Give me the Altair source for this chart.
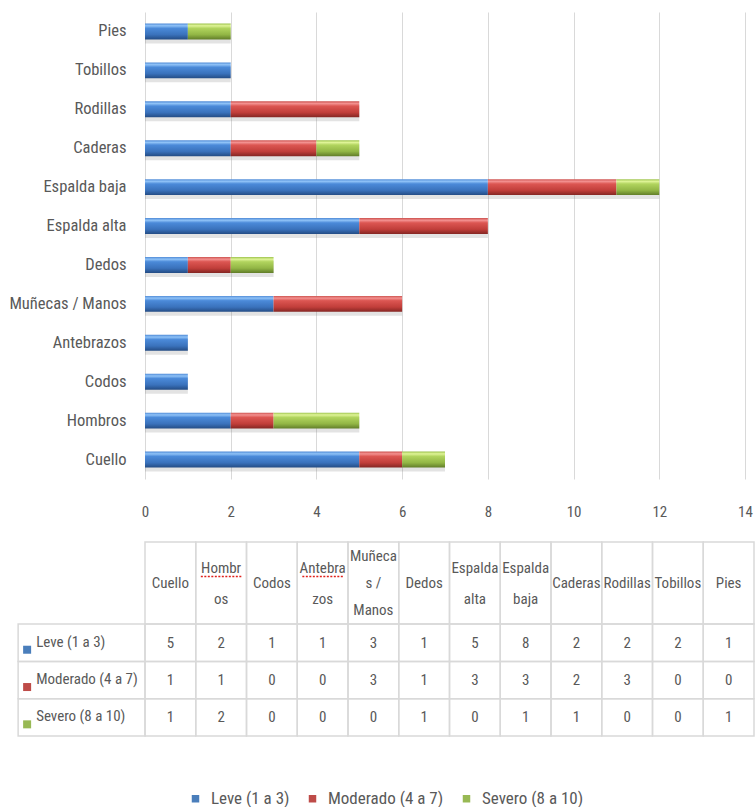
import altair as alt
import pandas as pd

FONT = "Roboto Condensed, Noto Sans Condensed, Arial Narrow, Roboto, sans-serif"
TXT = "#595959"
GRID = "#d9d9d9"

categories = ["Cuello", "Hombros", "Codos", "Antebrazos ", "Muñecas / Manos", "Dedos",
              "Espalda alta", "Espalda baja", "Caderas", "Rodillas", "Tobillos", "Pies"]
header_labels = ["Cuello", "Hombr\nos", "Codos", "Antebra\nzos", "Muñeca\ns /\nManos", "Dedos",
                 "Espalda\nalta", "Espalda\nbaja", "Caderas", "Rodillas", "Tobillos", "Pies"]
spell_flagged = ["Hombros", "Antebrazos "]
series = ["Leve (1 a 3)", "Moderado (4 a 7)", "Severo (8 a 10)"]
leve = [5, 2, 1, 1, 3, 1, 5, 8, 2, 2, 2, 1]
moderado = [1, 1, 0, 0, 3, 1, 3, 3, 2, 3, 0, 0]
severo = [1, 2, 0, 0, 0, 1, 0, 1, 1, 0, 0, 1]
x_ticks = [0, 2, 4, 6, 8, 10, 12, 14]
solid_colors = ["#4a7ebb", "#be4b48", "#98b954"]

def grad(stops):
    return alt.Gradient(gradient="linear", x1=0, x2=0, y1=0, y2=1,
                        stops=[alt.GradientStop(color=c, offset=o) for o, c in stops])

gradients = [
    grad([(0, "#4f8ad6"), (0.14, "#8fc2f7"), (0.3, "#4b8ad9"), (0.7, "#3a72bc"), (1, "#244c84")]),
    grad([(0, "#cc514e"), (0.14, "#f39190"), (0.3, "#dc5652"), (0.7, "#c13e3a"), (1, "#842623")]),
    grad([(0, "#9cc24c"), (0.14, "#dff497"), (0.3, "#b1d45e"), (0.7, "#92b645"), (1, "#617d29")]),
]

values_by_series = [leve, moderado, severo]
rows = []
for i, c in enumerate(categories):
    for k, s in enumerate(series):
        rows.append({"cat": c, "serie": s, "order": k, "value": values_by_series[k][i],
                     "col": i, "row": k})
df = pd.DataFrame(rows)

# ---------------- bar chart ----------------
base = alt.Chart(df).transform_stack(
    stack="value", groupby=["cat"], sort=[alt.SortField("order", order="ascending")],
    as_=["x0", "x1"]
).transform_filter("datum.value > 0")

y_enc = alt.Y("cat:N", sort=list(reversed(categories)),
              scale=alt.Scale(paddingInner=0.59, paddingOuter=0.295),
              axis=alt.Axis(title=None, ticks=False, domain=False, labelFontSize=16.5,
                            labelColor=TXT, labelFont=FONT, labelPadding=19))
x_enc = alt.X("x0:Q", scale=alt.Scale(domain=[0, 14], nice=False, zero=True),
              axis=alt.Axis(values=x_ticks, title=None, grid=True, gridColor=GRID,
                            gridWidth=1, ticks=False, domain=False, labelFontSize=15,
                            labelColor=TXT, labelFont=FONT, labelPadding=25,
                            labelFlush=False))

shadow = base.mark_bar(color="#7f7f7f", opacity=0.22, yOffset=4).encode(
    y=y_enc, x=x_enc, x2="x1:Q")
layers = [shadow]
for k, s in enumerate(series):
    layers.append(base.transform_filter(alt.datum.serie == s).mark_bar(
        color=gradients[k]).encode(y=y_enc, x=x_enc, x2="x1:Q"))

bars = alt.layer(*layers).properties(width=600, height=467)

# ---------------- data table ----------------
HEAD_TOP = -2.2
TABLE_H = 194
PX_PER_UNIT = TABLE_H / (3 - HEAD_TOP)
xs = alt.Scale(domain=[0, 12], nice=False, zero=False)
ys = alt.Scale(domain=[HEAD_TOP, 3], nice=False, zero=False, reverse=True)

head_df = pd.DataFrame({"col": list(range(12)), "label": header_labels, "cat": categories})
head_df["x0"] = head_df["col"]
head_df["x1"] = head_df["col"] + 1
head_df["y0"] = HEAD_TOP
head_df["y1"] = 0

line_rows = []
for i, lab in enumerate(header_labels):
    parts = lab.split("\n")
    for j, p in enumerate(parts):
        line_rows.append({"col": i, "cat": categories[i], "line": j, "n": len(parts), "text": p})
lines_df = pd.DataFrame(line_rows)

body_df = df.copy()
body_df["x0"] = body_df["col"]
body_df["x1"] = body_df["col"] + 1
body_df["y0"] = body_df["row"]
body_df["y1"] = body_df["row"] + 1

rowhead_df = pd.DataFrame({"serie": series, "row": list(range(3))})
rowhead_df["x0"] = -2.5
rowhead_df["x1"] = 0
rowhead_df["y0"] = rowhead_df["row"]
rowhead_df["y1"] = rowhead_df["row"] + 1

def cell_rects(d):
    return alt.Chart(d).mark_rect(fill=None, stroke=GRID, strokeWidth=1.5).encode(
        x=alt.X("x0:Q", scale=xs, axis=None), x2="x1:Q",
        y=alt.Y("y0:Q", scale=ys, axis=None), y2="y1:Q")

head_calc = dict(
    xm="datum.col + 0.5",
    ym=(f"{HEAD_TOP / 2} + (datum.line - (datum.n - 1) / 2) * "
        f"(datum.n == 3 ? 27 : 31) / {PX_PER_UNIT}"),
)

head_text = alt.Chart(lines_df).transform_calculate(**head_calc).mark_text(
    font=FONT, fontSize=15, color=TXT, baseline="middle"
).encode(x=alt.X("xm:Q", scale=xs, axis=None), y=alt.Y("ym:Q", scale=ys, axis=None),
         text="text:N")

squiggle = alt.Chart(lines_df).transform_filter(
    alt.FieldOneOfPredicate(field="cat", oneOf=spell_flagged)
).transform_filter("datum.line == 0").transform_calculate(
    xa="datum.col + 0.1", xb="datum.col + 0.9", **head_calc
).mark_rule(color="#e0201b", strokeWidth=1.5, strokeDash=[2, 1.5], yOffset=9).encode(
    x=alt.X("xa:Q", scale=xs, axis=None), x2="xb:Q",
    y=alt.Y("ym:Q", scale=ys, axis=None))

num_text = alt.Chart(body_df).transform_calculate(
    xm="datum.col + 0.5", ym="datum.row + 0.5"
).mark_text(font=FONT, fontSize=15, color=TXT, baseline="middle").encode(
    x=alt.X("xm:Q", scale=xs, axis=None), y=alt.Y("ym:Q", scale=ys, axis=None),
    text="value:Q")

row_text = alt.Chart(rowhead_df).transform_calculate(ym="datum.row + 0.5").mark_text(
    font=FONT, fontSize=15, color=TXT, align="left", baseline="middle", dx=18, dy=-1
).encode(x=alt.X("x0:Q", scale=xs, axis=None), y=alt.Y("ym:Q", scale=ys, axis=None),
         text="serie:N")

row_sym = alt.Chart(rowhead_df).transform_calculate(ym="datum.row + 0.5").mark_square(
    size=64, opacity=1, xOffset=9, yOffset=7
).encode(
    x=alt.X("x0:Q", scale=xs, axis=None), y=alt.Y("ym:Q", scale=ys, axis=None),
    color=alt.Color("serie:N", scale=alt.Scale(domain=series, range=solid_colors),
                    legend=alt.Legend(title=None, orient="none", direction="horizontal",
                                      legendX=42, legendY=778,
                                      symbolType="square", symbolSize=56,
                                      symbolStrokeWidth=0, labelFontSize=17,
                                      labelColor=TXT, labelFont=FONT, labelOffset=7,
                                      columnPadding=14)))

table = alt.layer(
    cell_rects(head_df), cell_rects(body_df), cell_rects(rowhead_df),
    head_text, squiggle, num_text, row_text, row_sym
).properties(width=609, height=TABLE_H)

chart = alt.vconcat(bars, table, spacing=22).properties(
    padding={"left": 8, "top": 12, "right": 0, "bottom": 0},
    autosize=alt.AutoSizeParams(type="pad"),
    background="white",
).configure_view(stroke=None)

chart.save("out.html", embed_options={"renderer": "svg", "actions": False})
